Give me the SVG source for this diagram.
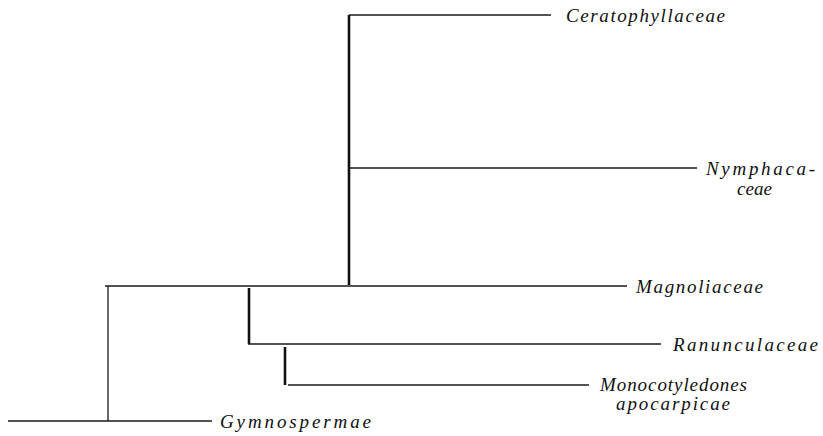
<svg xmlns="http://www.w3.org/2000/svg" width="823" height="436" viewBox="0 0 823 436">
<style>
.l{stroke:#1a1a1a;stroke-width:1.3;fill:none}
.t{stroke:#111;stroke-width:2.6;fill:none}
</style>
<rect width="823" height="436" fill="#fff"/>
<g id="connectors">
<line class="l" x1="349" y1="15" x2="551" y2="15"/>
<line class="t" x1="349" y1="15" x2="349" y2="285"/>
<line class="l" x1="349" y1="168" x2="697" y2="168"/>
<line class="l" x1="105" y1="286" x2="627" y2="286"/>
<line class="l" x1="108" y1="286" x2="108" y2="421"/>
<line class="l" x1="8" y1="421" x2="212" y2="421"/>
<line class="t" x1="249" y1="288" x2="249" y2="344"/>
<line class="l" x1="248" y1="344" x2="661" y2="344"/>
<line class="t" x1="285" y1="347" x2="285" y2="385"/>
<line class="l" x1="288" y1="385" x2="589" y2="385"/>
</g>
<g font-family="Liberation Serif" font-style="italic" font-size="19" fill="#111">
<g id="ceratophyllaceae"><text x="566" y="22" textLength="159" lengthAdjust="spacing">Ceratophyllaceae</text></g>
<g id="nymphaeaceae"><text x="706" y="175" textLength="109" lengthAdjust="spacing">Nymphaca-</text><text x="737" y="195" textLength="35" lengthAdjust="spacing">ceae</text></g>
<g id="magnoliaceae"><text x="636" y="293" textLength="127" lengthAdjust="spacing">Magnoliaceae</text></g>
<g id="ranunculaceae"><text x="673" y="351" textLength="145" lengthAdjust="spacing">Ranunculaceae</text></g>
<g id="monocotyledones"><text x="600" y="391" textLength="147" lengthAdjust="spacing">Monocotyledones</text><text x="616" y="410" textLength="114" lengthAdjust="spacing">apocarpicae</text></g>
<g id="gymnospermae"><text x="220" y="428" textLength="151" lengthAdjust="spacing">Gymnospermae</text></g>
</g>
</svg>
